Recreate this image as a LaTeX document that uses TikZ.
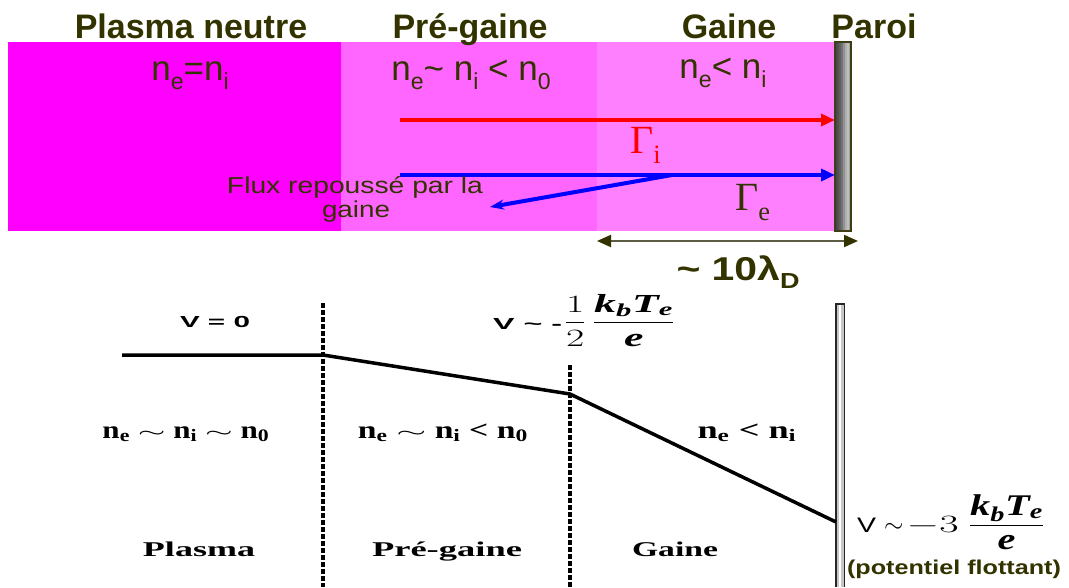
\documentclass[tikz,border=0pt]{standalone}
\usepackage{amsmath}
\usepackage{fontspec}
\setmainfont{Liberation Serif}
\setsansfont{Liberation Sans}
\usetikzlibrary{arrows.meta}
\definecolor{mag}{HTML}{FF00FF}
\definecolor{pmid}{HTML}{FF66FF}
\definecolor{pright}{HTML}{FF80FF}
\definecolor{olv}{HTML}{333300}
\newcommand\fs[1]{\fontsize{#1}{#1}\selectfont}
\newcommand\hw[2]{\resizebox{#1pt}{\height}{#2}}
\newcommand\sbs[1]{\raisebox{-0.26em}{\scalebox{0.66}{#1}}}
\newcommand\kbte{\text{\bfseries\itshape k\textsubscript{b}T\textsubscript{e}}}
\newcommand\ebi{\text{\bfseries\itshape e}}
\newcommand\flatsim{\raisebox{0.05em}{\scalebox{1}[0.55]{\boldmath$\sim$}}}
\begin{document}
\begin{tikzpicture}[x=1pt,y=-1pt,
  title/.style={anchor=base,inner sep=0pt,text=olv,font=\sffamily\bfseries\fs{34}},
  toplab/.style={anchor=base,inner sep=0pt,text=olv,font=\sffamily\fs{35}},
  botlab/.style={anchor=base,inner sep=0pt,text=black,font=\rmfamily\bfseries\fs{25}},
  reglab/.style={anchor=base,inner sep=0pt,text=black,font=\rmfamily\bfseries\fs{21}},
  flow/.style={line width=4pt},
  dashA/.style={line width=3.5pt,dash pattern=on 4.5pt off 2.5pt},
  dashB/.style={line width=4.5pt,dash pattern=on 5pt off 2pt}]
\useasboundingbox (0,0) rectangle (1069,587);
% ---------- top band ----------
\fill[mag] (8,42) rectangle (341,231);
\fill[pmid] (341,42) rectangle (597,231);
\fill[pright] (597,42) rectangle (835,231);
% wall (graded grey strips)
\foreach \xx/\gv in {835/70,837/80,839/95,841/115,843/145,845/175,847/190,849/160}{
  \definecolor{wg}{RGB}{\gv,\gv,\gv}
  \fill[wg] (\xx,42) rectangle (\xx+2.05,231);
}
\draw[olv!85!gray, line width=1.6pt] (835,42) rectangle (851,231);
% titles
\node[title] (t1) at (191,38) {Plasma neutre};
\node[title] (t2) at (470,38) {Pré-gaine};
\node[title] (t3) at (729,38) {Gaine};
\node[title] (t4) at (874,38) {Paroi};
% densities
\node[toplab] (d1) at (190,80) {n\sbs{e}=n\sbs{i}};
\node[toplab] (d2) at (471,80) {n\sbs{e}\textasciitilde{} n\sbs{i} < n\sbs{0}};
\node[toplab] (d3) at (723,78) {n\sbs{e}< n\sbs{i}};
% fluxes
\coordinate (ri0) at (400,120);
\coordinate (ri1) at (835,120);
\coordinate (bi0) at (400,175);
\coordinate (bi1) at (835,175);
\coordinate (bd0) at (672,175);
\coordinate (bd1) at (490,207);
\draw[flow, red, -{Triangle[length=14pt,width=12pt]}] (ri0) -- (ri1);
\draw[flow, blue, -{Triangle[length=14pt,width=12pt]}] (bi0) -- (bi1);
\draw[flow, blue, -{Stealth[length=14pt,width=10pt]}] (bd0) -- (bd1);
\node[anchor=base west, inner sep=0pt, text=red, font=\rmfamily\fs{40}] (gi) at (630,153) {Γ\sbs{i}};
\node[anchor=base west, inner sep=0pt, text=olv, font=\rmfamily\fs{40}] (ge) at (735,210) {Γ\sbs{e}};
\node[anchor=base, inner sep=0pt, text=olv, font=\sffamily\fs{23}] (fx1) at (355,193) {\hw{256}{Flux repoussé par la}};
\node[anchor=base, inner sep=0pt, text=olv, font=\sffamily\fs{23}] (fx2) at (356,217) {\hw{68}{gaine}};
% Debye length
\coordinate (da0) at (597,241);
\coordinate (da1) at (858,241);
\draw[line width=2pt, draw=olv!45!gray, {Triangle[length=14pt,width=12pt,color=olv]}-{Triangle[length=14pt,width=12pt,color=olv]}] (da0) -- (da1);
\node[anchor=base, inner sep=0pt, text=olv, font=\sffamily\bfseries\fs{33}] (ld) at (738,280) {\hw{123}{\textasciitilde\ 10λ\sbs{D}}};
% ---------- bottom: potential ----------
\coordinate (ka) at (323,303);
\coordinate (kb) at (323,587);
\coordinate (kc) at (570,365);
\coordinate (kd) at (570,587);
\draw[dashA] (ka) -- (kb);
\draw[dashB] (kc) -- (kd);
\fill[gray!45] (835,303) rectangle (845,587);
\draw[gray!30!black, line width=1.5pt] (835.75,303) -- (835.75,587);
\draw[gray!30!black, line width=1.5pt] (844.25,303) -- (844.25,587);
\draw[gray!30!black, line width=1.5pt] (835,303.75) -- (845,303.75);
\draw[white, line width=1.5pt] (840,305) -- (840,587);
\coordinate (p0) at (122,355);
\coordinate (p1) at (323,355);
\coordinate (p2) at (570,394);
\coordinate (p3) at (836,522);
\draw[line width=3.5pt, line join=round] (p0) -- (p1) -- (p2) -- (p3);
% potential labels
\node[anchor=base, inner sep=0pt] (v0) at (215,327) {\hw{70}{\sffamily\bfseries\fs{16}V = 0}};
\node[anchor=base west, inner sep=0pt] (vh) at (493,329) {\hw{69}{\sffamily\bfseries\fs{16}V \textasciitilde\ -}\hspace{2pt}\hw{22}{\fs{28}$\dfrac{1}{2}$}\hspace{6pt}\hw{83}{\fs{26}$\dfrac{\kbte}{\ebi}$}};
\node[anchor=base west, inner sep=0pt] (v3) at (857,532) {\hw{19}{\sffamily\fs{21}V}\hspace{8pt}{\fs{26}$\sim$}\hspace{3pt}\hw{52}{\fs{32}$-3$}\hspace{10pt}\hw{76}{\fs{30}$\dfrac{\kbte}{\ebi}$}};
\node[anchor=base, inner sep=0pt, text=olv] (pf) at (954,574) {\hw{214}{\sffamily\bfseries\fs{20}(potentiel flottant)}};
% densities bottom
\node[botlab] (b1) at (186,438) {\hw{167}{n\textsubscript{e} \flatsim{} n\textsubscript{i} \flatsim{} n\textsubscript{0}}};
\node[botlab] (b2) at (443,438) {\hw{170}{n\textsubscript{e} \flatsim{} n\textsubscript{i} < n\textsubscript{0}}};
\node[botlab] (b3) at (747,438) {\hw{99}{n\textsubscript{e} < n\textsubscript{i}}};
% regions bottom
\node[reglab] (r1) at (199,556) {\hw{112}{Plasma}};
\node[reglab] (r2) at (447,556) {\hw{150}{Pré-gaine}};
\node[reglab] (r3) at (675,556) {\hw{86}{Gaine}};
\end{tikzpicture}
\end{document}
